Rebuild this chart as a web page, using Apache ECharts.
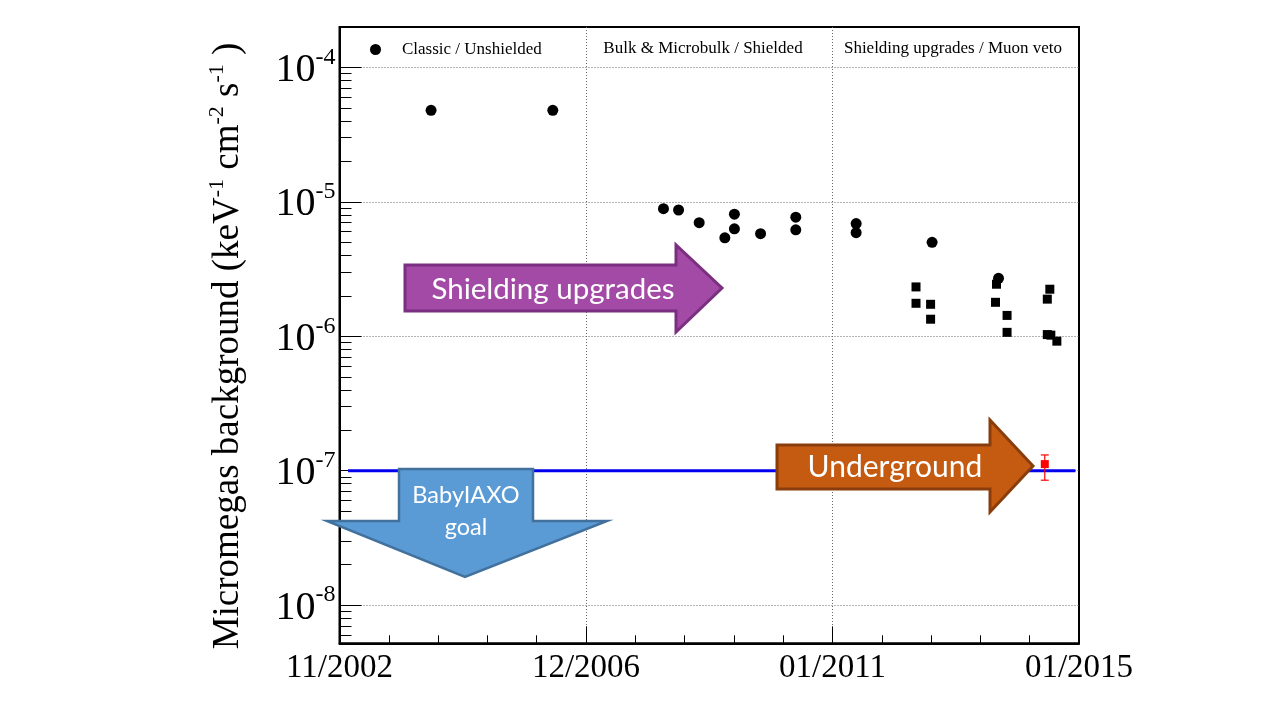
<!DOCTYPE html>
<html><head><meta charset="utf-8">
<script src="https://cdn.jsdelivr.net/npm/echarts@6/dist/echarts.min.js"></script>
<style>html,body{margin:0;padding:0;background:#fff}#c{width:1280px;height:720px}</style>
</head><body><div id="c"></div>
<script>
// ---- data (x = months after 11/2002, y = background in keV^-1 cm^-2 s^-1) ----
const xTickLabels = ['11/2002', '12/2006', '01/2011', '01/2015'];
const xTickStep = 49;
const classicX = [18.2, 42.4];
const classicY = [4.8e-5, 4.8e-5];
const bulkX = [64.4, 67.4, 71.5, 78.5, 78.5, 76.6, 83.7, 90.7, 90.7, 102.7, 102.7, 117.8, 131.0];
const bulkY = [8.9e-6, 8.7e-6, 7.0e-6, 8.1e-6, 6.3e-6, 5.4e-6, 5.8e-6, 7.7e-6, 6.2e-6, 6.9e-6, 5.9e-6, 5.0e-6, 2.7e-6];
const vetoX = [114.6, 114.6, 117.5, 117.5, 130.6, 130.4, 132.7, 132.7, 141.2, 140.7, 140.7, 141.4, 142.6];
const vetoY = [2.33e-6, 1.76e-6, 1.73e-6, 1.34e-6, 2.44e-6, 1.79e-6, 1.43e-6, 1.07e-6, 2.24e-6, 1.89e-6, 1.03e-6, 1.02e-6, 9.2e-7];
const undergroundX = [140.2];
const undergroundY = [1.12e-7];
const undergroundLow = [8.5e-8];
const undergroundHigh = [1.31e-7];
const goalX = [1.7, 146.3];
const goalY = [1e-7, 1e-7];

const serif = '"Liberation Serif", "Times New Roman", serif';
const sans = 'Lato, "Open Sans", sans-serif';
const zip = (xs, ys) => xs.map((x, i) => [x, ys[i]]);

const chart = echarts.init(document.getElementById('c'), null, {renderer: 'canvas'});
chart.setOption({
  animation: false,
  backgroundColor: '#fff',
  grid: {left: 339.5, right: 201, top: 27, bottom: 76.7, show: true, borderColor: '#000', borderWidth: 2, containLabel: false},
  legend: {
    data: ['Classic / Unshielded'], left: 365, top: 36, icon: 'circle', itemWidth: 11, itemHeight: 11,
    textStyle: {fontFamily: serif, fontSize: 17, color: '#000', padding: [0, 0, 0, 16]}
  },
  xAxis: {
    type: 'value', min: 0, max: 3 * xTickStep, interval: xTickStep,
    axisLine: {show: true, lineStyle: {color: '#000', width: 2}},
    axisTick: {show: true, inside: true, length: 17, lineStyle: {color: '#000', width: 1}},
    minorTick: {show: true, splitNumber: 5, length: 8, lineStyle: {color: '#000', width: 1}},
    splitLine: {show: true, showMinLine: false, showMaxLine: false, lineStyle: {color: '#666', type: [1, 2], width: 1}},
    axisLabel: {
      margin: 9, fontFamily: serif, fontSize: 33, color: '#000',
      formatter: v => xTickLabels[Math.round(v / xTickStep)] || ''
    }
  },
  yAxis: {
    type: 'log', logBase: 10, min: 5.2e-9, max: 2e-4,
    axisLine: {show: true, lineStyle: {color: '#000', width: 2}},
    axisTick: {show: true, inside: true, length: 22, lineStyle: {color: '#000', width: 1}},
    minorTick: {show: true, splitNumber: 9, length: 12, lineStyle: {color: '#000', width: 1}},
    splitLine: {show: true, showMinLine: false, showMaxLine: false, lineStyle: {color: '#666', type: [1, 2], width: 1}},
    axisLabel: {
      margin: 4, showMinLabel: false, showMaxLabel: false,
      formatter: v => {
        const e = Math.log10(v), r = Math.round(e);
        if (Math.abs(e - r) > 1e-6) return '';
        return '{b|10}{s|' + r + '}';
      },
      rich: {
        b: {fontFamily: serif, fontSize: 40, color: '#000', lineHeight: 44, padding: [6, 0, 0, 0]},
        s: {fontFamily: serif, fontSize: 24, color: '#000', verticalAlign: 'top', lineHeight: 24}
      }
    }
  },
  series: [
    {name: 'Classic / Unshielded', type: 'scatter', symbol: 'circle', symbolSize: 11, itemStyle: {color: '#000', opacity: 1}, data: zip(classicX, classicY), z: 5},
    {name: 'Bulk & Microbulk / Shielded', type: 'scatter', symbol: 'circle', symbolSize: 11, itemStyle: {color: '#000', opacity: 1}, data: zip(bulkX, bulkY), z: 5},
    {name: 'Shielding upgrades / Muon veto', type: 'scatter', symbol: 'rect', symbolSize: 9, itemStyle: {color: '#000', opacity: 1}, data: zip(vetoX, vetoY), z: 5},
    {name: 'BabyIAXO goal', type: 'line', showSymbol: false, symbol: 'none', lineStyle: {color: '#0000ee', width: 3}, data: zip(goalX, goalY), z: 4},
    {
      name: 'Underground error', type: 'custom', z: 6, silent: true,
      data: undergroundX.map((x, i) => [x, undergroundLow[i], undergroundHigh[i]]),
      renderItem: (params, api) => {
        const lo = api.coord([api.value(0), api.value(1)]);
        const hi = api.coord([api.value(0), api.value(2)]);
        const st = {stroke: '#ff0000', lineWidth: 1.2};
        return {type: 'group', children: [
          {type: 'line', shape: {x1: lo[0], y1: lo[1], x2: hi[0], y2: hi[1]}, style: st},
          {type: 'line', shape: {x1: lo[0] - 4, y1: lo[1], x2: lo[0] + 4, y2: lo[1]}, style: st},
          {type: 'line', shape: {x1: hi[0] - 4, y1: hi[1], x2: hi[0] + 4, y2: hi[1]}, style: st}
        ]};
      }
    },
    {name: 'Underground', type: 'scatter', symbol: 'rect', symbolSize: 8, itemStyle: {color: '#ff0000', opacity: 1}, data: zip(undergroundX, undergroundY), z: 7}
  ],
  graphic: [
    {type: 'text', z: 50, style: {x: 703, y: 49, text: 'Bulk & Microbulk / Shielded', fontFamily: serif, fontSize: 17, fill: '#000', align: 'center', verticalAlign: 'middle'}},
    {type: 'text', z: 50, style: {x: 953, y: 49, text: 'Shielding upgrades / Muon veto', fontFamily: serif, fontSize: 17, fill: '#000', align: 'center', verticalAlign: 'middle'}},
    {type: 'text', z: 50, x: 228, y: 346, rotation: Math.PI / 2, style: {
      x: 0, y: 0, align: 'center', verticalAlign: 'middle',
      text: '{t|Micromegas background (keV}{s|-1}{t| cm}{s|-2}{t| s}{s|-1}{t| )}',
      rich: {
        t: {fontFamily: serif, fontSize: 37, fill: '#000', lineHeight: 44},
        s: {fontFamily: serif, fontSize: 22, fill: '#000', verticalAlign: 'top', lineHeight: 22}
      }
    }},
    {type: 'polygon', z: 100, shape: {points: [[405, 265], [676, 265], [676, 245], [722, 288], [676, 332], [676, 311], [405, 311]]},
      style: {fill: '#a24aa6', stroke: '#7b2f80', lineWidth: 3}},
    {type: 'text', z: 101, style: {x: 553, y: 289, text: 'Shielding upgrades', fontFamily: sans, fontSize: 29.5, fill: '#fff', align: 'center', verticalAlign: 'middle'}},
    {type: 'polygon', z: 100, shape: {points: [[777, 445], [990, 445], [990, 420], [1033, 466], [990, 512], [990, 489], [777, 489]]},
      style: {fill: '#c55a11', stroke: '#8a3d0c', lineWidth: 3}},
    {type: 'text', z: 101, style: {x: 895, y: 467, text: 'Underground', fontFamily: sans, fontSize: 30, fill: '#fff', align: 'center', verticalAlign: 'middle'}},
    {type: 'polygon', z: 100, shape: {points: [[399, 469], [533, 469], [533, 521], [607, 521], [465, 577], [327, 521], [399, 521]]},
      style: {fill: '#5b9bd5', stroke: '#41719c', lineWidth: 2.5}},
    {type: 'text', z: 101, style: {x: 466, y: 495, text: 'BabyIAXO', fontFamily: sans, fontSize: 23.5, fill: '#fff', align: 'center', verticalAlign: 'middle'}},
    {type: 'text', z: 101, style: {x: 466, y: 527, text: 'goal', fontFamily: sans, fontSize: 23.5, fill: '#fff', align: 'center', verticalAlign: 'middle'}}
  ]
});
</script>
</body></html>
